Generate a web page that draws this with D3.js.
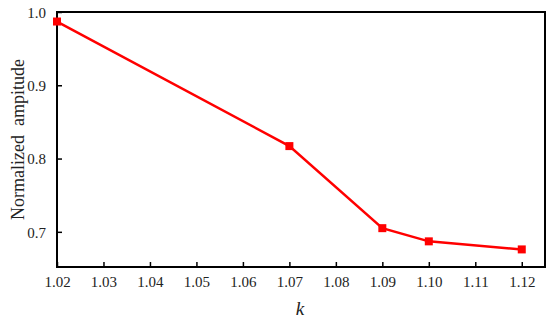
<!DOCTYPE html>
<html>
<head>
<meta charset="utf-8">
<script src="https://cdn.jsdelivr.net/npm/d3@7"></script>
<style>
  body { margin: 0; background: #fff; }
  svg { display: block; }
  svg text { font-family: "Liberation Serif", "Times New Roman", serif; }
</style>
</head>
<body>
<script>
// data
var kValues = [1.02, 1.07, 1.09, 1.10, 1.12];
var amplitude = [0.987, 0.817, 0.705, 0.687, 0.676];
var xTicks = [1.02, 1.03, 1.04, 1.05, 1.06, 1.07, 1.08, 1.09, 1.10, 1.11, 1.12];
var yTicks = [0.7, 0.8, 0.9, 1.0];

var WIDTH = 550;
var HEIGHT = 323;
var LEFT = 57, RIGHT = 545, TOP = 12, BOTTOM = 267;

var svg = d3.select('body').append('svg')
    .attr('width', WIDTH)
    .attr('height', HEIGHT);

var x = d3.scaleLinear().domain([1.02, 1.125]).range([LEFT, RIGHT]);
var y = d3.scaleLinear().domain([0.652, 1.0]).range([BOTTOM, TOP]);

// inward ticks
var xAxis = d3.axisTop(x).tickValues(xTicks).tickSize(5).tickFormat(d3.format('.2f'));
var yAxis = d3.axisRight(y).tickValues(yTicks).tickSize(5).tickFormat(d3.format('.1f'));

var gx = svg.append('g').attr('transform', 'translate(0,' + BOTTOM + ')').call(xAxis);
gx.select('.domain').remove();
gx.selectAll('.tick line').attr('stroke', '#000').attr('stroke-width', 1.5);
gx.selectAll('.tick text')
    .attr('y', 20)
    .attr('dy', 0)
    .attr('fill', '#222')
    .style('font-size', '15px');

var gy = svg.append('g').attr('transform', 'translate(' + LEFT + ',0)').call(yAxis);
gy.select('.domain').remove();
gy.selectAll('.tick line').attr('stroke', '#000').attr('stroke-width', 1.5);
gy.selectAll('.tick text')
    .attr('x', -11)
    .attr('dy', '0.35em')
    .attr('text-anchor', 'end')
    .attr('fill', '#222')
    .style('font-size', '15px');

// frame
svg.append('rect')
    .attr('x', LEFT)
    .attr('y', TOP)
    .attr('width', RIGHT - LEFT)
    .attr('height', BOTTOM - TOP)
    .attr('fill', 'none')
    .attr('stroke', '#000')
    .attr('stroke-width', 2);

var pts = kValues.map(function(k, i){ return [k, amplitude[i]]; });

svg.append('path')
    .datum(pts)
    .attr('d', d3.line().x(function(d){return x(d[0]);}).y(function(d){return y(d[1]);}))
    .attr('fill', 'none')
    .attr('stroke', '#ff0000')
    .attr('stroke-width', 2.5);

var MS = 8;
svg.selectAll('.marker').data(pts).enter()
    .append('rect')
    .attr('class', 'marker')
    .attr('x', function(d){return x(d[0]) - MS/2;})
    .attr('y', function(d){return y(d[1]) - MS/2;})
    .attr('width', MS)
    .attr('height', MS)
    .attr('fill', '#ff0000');

// axis titles
svg.append('text')
    .attr('x', 300)
    .attr('y', 315)
    .attr('text-anchor', 'middle')
    .attr('font-style', 'italic')
    .attr('fill', '#222')
    .style('font-size', '19px')
    .text('k');

svg.append('text')
    .attr('transform', 'translate(24,' + ((TOP + BOTTOM) / 2) + ') rotate(-90)')
    .attr('text-anchor', 'middle')
    .attr('fill', '#222')
    .style('font-size', '18px')
    .style('white-space', 'pre')
    .text('Normalized  ampitude');
</script>
</body>
</html>
